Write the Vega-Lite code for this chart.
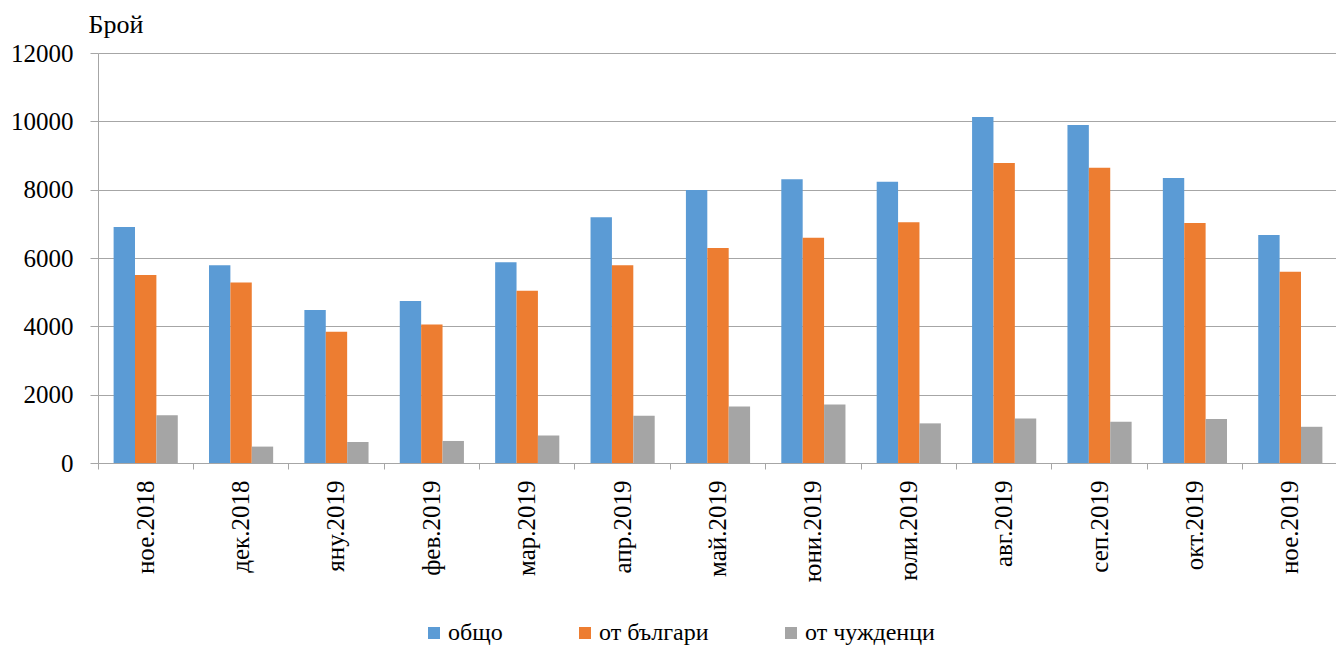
{
  "$schema": "https://vega.github.io/schema/vega-lite/v6.json",
  "width": 1240,
  "height": 410,
  "autosize": "none",
  "padding": {"left": 98, "top": 53, "right": 0, "bottom": 183},
  "background": "white",
  "config": {
    "font": "Times New Roman",
    "axis": {"labelFont": "Times New Roman", "titleFont": "Times New Roman"},
    "legend": {"labelFont": "Times New Roman"},
    "view": {"stroke": null}
  },
  "data": {
    "values": [
      {"month": "ное.2018", "series": "общо", "value": 6910},
      {"month": "ное.2018", "series": "от българи", "value": 5500},
      {"month": "ное.2018", "series": "от чужденци", "value": 1395},
      {"month": "дек.2018", "series": "общо", "value": 5790},
      {"month": "дек.2018", "series": "от българи", "value": 5280},
      {"month": "дек.2018", "series": "от чужденци", "value": 480},
      {"month": "яну.2019", "series": "общо", "value": 4475},
      {"month": "яну.2019", "series": "от българи", "value": 3840},
      {"month": "яну.2019", "series": "от чужденци", "value": 615},
      {"month": "фев.2019", "series": "общо", "value": 4740},
      {"month": "фев.2019", "series": "от българи", "value": 4055},
      {"month": "фев.2019", "series": "от чужденци", "value": 645},
      {"month": "мар.2019", "series": "общо", "value": 5875},
      {"month": "мар.2019", "series": "от българи", "value": 5045},
      {"month": "мар.2019", "series": "от чужденци", "value": 805},
      {"month": "апр.2019", "series": "общо", "value": 7195},
      {"month": "апр.2019", "series": "от българи", "value": 5790},
      {"month": "апр.2019", "series": "от чужденци", "value": 1385},
      {"month": "май.2019", "series": "общо", "value": 7990},
      {"month": "май.2019", "series": "от българи", "value": 6295},
      {"month": "май.2019", "series": "от чужденци", "value": 1655},
      {"month": "юни.2019", "series": "общо", "value": 8305},
      {"month": "юни.2019", "series": "от българи", "value": 6590},
      {"month": "юни.2019", "series": "от чужденци", "value": 1715},
      {"month": "юли.2019", "series": "общо", "value": 8235},
      {"month": "юли.2019", "series": "от българи", "value": 7045},
      {"month": "юли.2019", "series": "от чужденци", "value": 1160},
      {"month": "авг.2019", "series": "общо", "value": 10125},
      {"month": "авг.2019", "series": "от българи", "value": 8780},
      {"month": "авг.2019", "series": "от чужденци", "value": 1305},
      {"month": "сеп.2019", "series": "общо", "value": 9890},
      {"month": "сеп.2019", "series": "от българи", "value": 8645},
      {"month": "сеп.2019", "series": "от чужденци", "value": 1210},
      {"month": "окт.2019", "series": "общо", "value": 8340},
      {"month": "окт.2019", "series": "от българи", "value": 7025},
      {"month": "окт.2019", "series": "от чужденци", "value": 1290},
      {"month": "ное.2019", "series": "общо", "value": 6675},
      {"month": "ное.2019", "series": "от българи", "value": 5595},
      {"month": "ное.2019", "series": "от чужденци", "value": 1060}
    ]
  },
  "mark": {"type": "bar"},
  "encoding": {
    "x": {
      "field": "month",
      "type": "nominal",
      "sort": ["ное.2018", "дек.2018", "яну.2019", "фев.2019", "мар.2019", "апр.2019", "май.2019", "юни.2019", "юли.2019", "авг.2019", "сеп.2019", "окт.2019", "ное.2019"],
      "scale": {"paddingInner": 0, "paddingOuter": 0},
      "axis": {
        "title": null,
        "labelAngle": -90,
        "bandPosition": 0,
        "tickSize": 6,
        "tickColor": "#a6a6a6",
        "domainColor": "#a6a6a6",
        "labelFont": "Liberation Serif",
        "labelFontSize": 25,
        "labelColor": "#000000",
        "labelPadding": 11,
        "grid": false
      }
    },
    "xOffset": {
      "field": "series",
      "sort": ["общо", "от българи", "от чужденци"],
      "scale": {"paddingInner": 0, "paddingOuter": 0.73}
    },
    "y": {
      "field": "value",
      "type": "quantitative",
      "scale": {"domain": [0, 12000]},
      "axis": {
        "values": [0, 2000, 4000, 6000, 8000, 10000, 12000],
        "format": "d",
        "title": "Брой",
        "titleAngle": 0,
        "titleX": -10,
        "titleY": -21,
        "titleAlign": "left",
        "titleBaseline": "alphabetic",
        "titleFont": "Liberation Serif",
        "titleFontSize": 26,
        "titleFontWeight": "normal",
        "titleColor": "#000000",
        "gridColor": "#a6a6a6",
        "tickColor": "#a6a6a6",
        "domainColor": "#a6a6a6",
        "tickSize": 8,
        "labelFont": "Liberation Serif",
        "labelFontSize": 25,
        "labelColor": "#000000",
        "labelPadding": 17
      }
    },
    "color": {
      "field": "series",
      "type": "nominal",
      "sort": ["общо", "от българи", "от чужденци"],
      "scale": {"domain": ["общо", "от българи", "от чужденци"], "range": ["#5B9BD5", "#ED7D31", "#A5A5A5"]},
      "legend": {
        "title": null,
        "orient": "none",
        "direction": "horizontal",
        "legendX": 324,
        "legendY": 568,
        "symbolType": "square",
        "symbolSize": 144,
        "symbolStrokeWidth": 0,
        "labelFont": "Liberation Serif",
        "labelFontSize": 24,
        "labelColor": "#000000",
        "labelOffset": 2,
        "columnPadding": 70
      }
    }
  }
}
